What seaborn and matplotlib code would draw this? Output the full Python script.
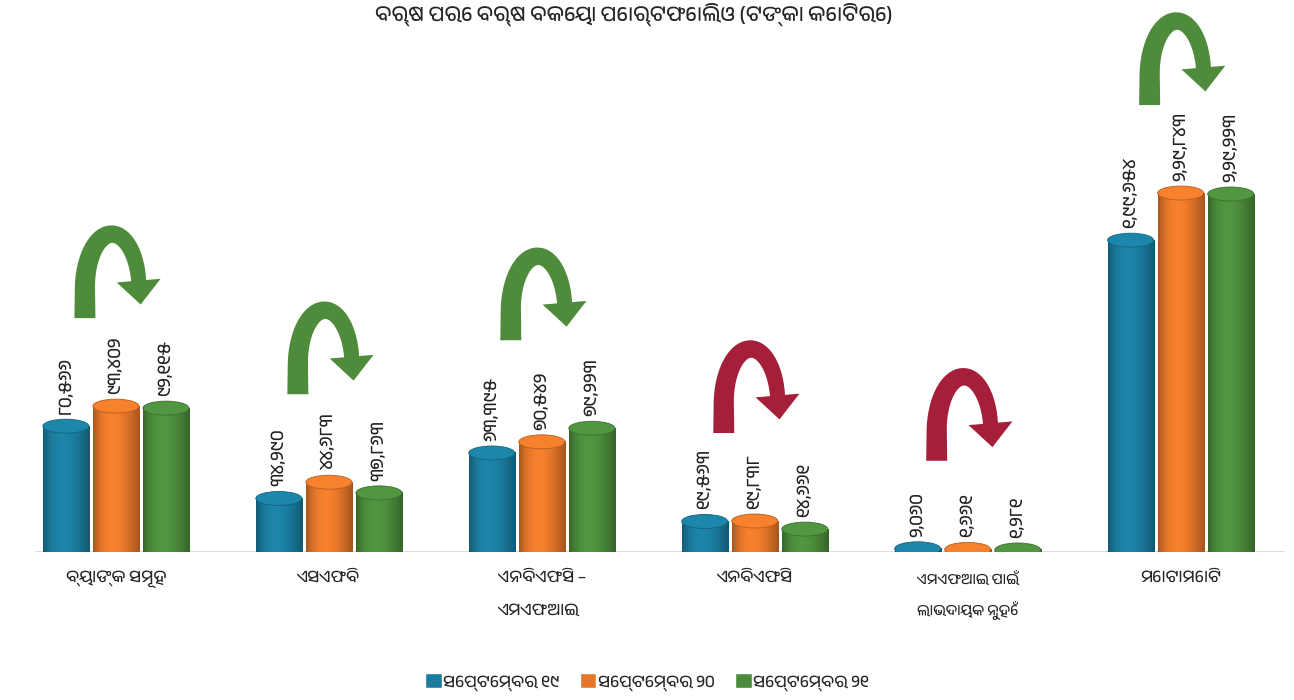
import numpy as np
import pandas as pd
import seaborn as sns
import matplotlib.pyplot as plt
from matplotlib.patches import Ellipse, Polygon, Patch
from matplotlib.colors import to_rgb

categories = ["ବ୍ୟାଙ୍କ ସମୂହ", "ଏସଏଫବି", "ଏନବିଏଫସି –\nଏମଏଫଆଇ", "ଏନବିଏଫସି",
              "ଏମଏଫଆଇ ପାଇଁ\nଲାଭଦାୟକ ନୁହେଁ", "ମୋଟାମୋଟି"]
months = ["ସେପ୍ଟେମ୍ବର ୧୯", "ସେପ୍ଟେମ୍ବର ୨୦", "ସେପ୍ଟେମ୍ବର ୨୧"]
sep19 = [80566, 34290, 63395, 19563, 2060, 199654]
sep20 = [93402, 44683, 70542, 19838, 1661, 229843]
sep21 = [92115, 37863, 79223, 14661, 1281, 229223]
colors = ["#1b7c9e", "#e5772a", "#4b8b3b"]
arrow_up, arrow_down = "#4e8b3a", "#a51e3a"
title = "ବର୍ଷ ପରେ ବର୍ଷ ବକେୟା ପୋର୍ଟଫୋଲିଓ (ଟଙ୍କା କୋଟିରେ)"

ODIA_DIGITS = str.maketrans("0123456789", "୦୧୨୩୪୫୬୭୮୯")


def indian_fmt(val):
    """Indian digit grouping, Odia numerals."""
    s = str(int(val))
    if len(s) > 3:
        head, tail = s[:-3], s[-3:]
        parts = []
        while len(head) > 2:
            parts.insert(0, head[-2:])
            head = head[:-2]
        if head:
            parts.insert(0, head)
        s = ",".join(parts + [tail])
    return s.translate(ODIA_DIGITS)


def hook_arrow(ax, gx, base, px_x, px_y, color):
    """Curved 'up and over' arrow drawn as a polygon, sizes given in pixels."""
    # centreline: straight left leg then an elliptical arc to the right
    leg = np.column_stack([np.full(10, -31.0), np.linspace(0, 30, 10)])
    theta = np.radians(np.linspace(180, 8, 60))
    arc = np.column_stack([-4 + 27 * np.cos(theta), 30 + 54 * np.sin(theta)])
    line = np.vstack([leg, arc[1:]])
    wid = np.linspace(21, 15, len(line))
    tang = np.gradient(line, axis=0)
    tang /= np.linalg.norm(tang, axis=1)[:, None]
    norm = np.column_stack([-tang[:, 1], tang[:, 0]])
    left = line + norm * wid[:, None] / 2
    right = line - norm * wid[:, None] / 2
    end, dirn, nrm = line[-1], tang[-1], norm[-1]
    head = [end + nrm * 22, end + dirn * 24, end - nrm * 22]
    pts = np.vstack([left, [head[0]], [head[1]], [head[2]], right[::-1]])
    pts = np.column_stack([gx + pts[:, 0] * px_x, base + pts[:, 1] * px_y])
    ax.add_patch(Polygon(pts, closed=True, facecolor=color, edgecolor='none',
                         zorder=5, clip_on=False))


sns.set_theme(style="white")
plt.rcParams['font.family'] = ['Anek Odia', 'Noto Sans Oriya', 'DejaVu Sans']

dfrm = pd.DataFrame({
    'category': categories * 3,
    'month': [m for m in months for _ in categories],
    'value': sep19 + sep20 + sep21,
})

fig, ax = plt.subplots(figsize=(12.94, 7.0), dpi=100)
fig.subplots_adjust(left=35/1294, right=1285/1294, bottom=148/700, top=1-21/700)
sns.barplot(data=dfrm, x='category', y='value', hue='month', hue_order=months,
            palette=colors, width=0.705, gap=0.08, ax=ax, legend=False)

ymax = 340000
ax.set_xlim(-0.38, 5.49)
ax.set_ylim(0, ymax)
px_y = ymax / 531.0
px_x = 5.87 / 1250.0
ell_h = 14 * px_y

vals = sep19 + sep20 + sep21
for idx, (bar, val) in enumerate(zip(list(ax.patches), vals)):
    col = np.array(to_rgb(colors[idx // len(categories)]))
    x0, wid, hgt = bar.get_x(), bar.get_width(), bar.get_height()
    cx = x0 + wid / 2
    bar.set_visible(False)
    tpos = np.linspace(0, 1, 80)
    shade = 0.72 + 0.36 * np.sin(np.pi * tpos ** 0.8)
    grad = np.clip(col[None, None, :] * shade[None, :, None], 0, 1)
    ax.imshow(grad, extent=[x0, x0 + wid, 0, hgt], aspect='auto', zorder=2,
              interpolation='bilinear')
    ax.add_patch(Ellipse((cx, 0), wid, ell_h, facecolor=col * 0.75, edgecolor='none', zorder=1.9))
    ax.add_patch(Ellipse((cx, hgt), wid, ell_h, facecolor=np.clip(col * 1.08, 0, 1),
                         edgecolor=col * 0.8, lw=0.6, zorder=3))
    ax.text(cx, hgt + ell_h / 2 + 5 * px_y, indian_fmt(val), rotation=90,
            ha='center', va='bottom', fontsize=13, color='#222222', zorder=4)

ax.set_xlim(-0.38, 5.49)
ax.set_ylim(0, ymax)

for gi in range(len(categories)):
    top = max(sep19[gi], sep20[gi], sep21[gi])
    colr = arrow_up if sep21[gi] >= sep19[gi] else arrow_down
    hook_arrow(ax, gi, top + 88 * px_y, px_x, px_y, colr)

ax.axhline(0, color='#d9d9d9', lw=1.2, zorder=1.5)
sns.despine(ax=ax, left=True, bottom=True)
ax.set_yticks([])
ax.set_xlabel("")
ax.set_ylabel("")
ax.set_xticks(range(len(categories)))
ax.set_xticklabels(categories, fontsize=12, linespacing=2.7)
for gi, lab in enumerate(ax.get_xticklabels()):
    lab.set_multialignment('left')
    if gi == 4:
        lab.set_fontsize(10.5)
        lab.set_linespacing(2.1)
ax.tick_params(axis='x', length=0, pad=13)

fig.text(634/1294, 1 - 14/700, title, ha='center', va='center', fontsize=15, fontweight='bold')
handles = [Patch(facecolor=c) for c in colors]
fig.legend(handles, months, loc='lower center', bbox_to_anchor=(0.5, -0.008), ncol=3,
           frameon=False, handlelength=1.0, handleheight=1.0, handletextpad=0.1,
           columnspacing=1.2, fontsize=12)

fig.savefig("out.png", dpi=100)
